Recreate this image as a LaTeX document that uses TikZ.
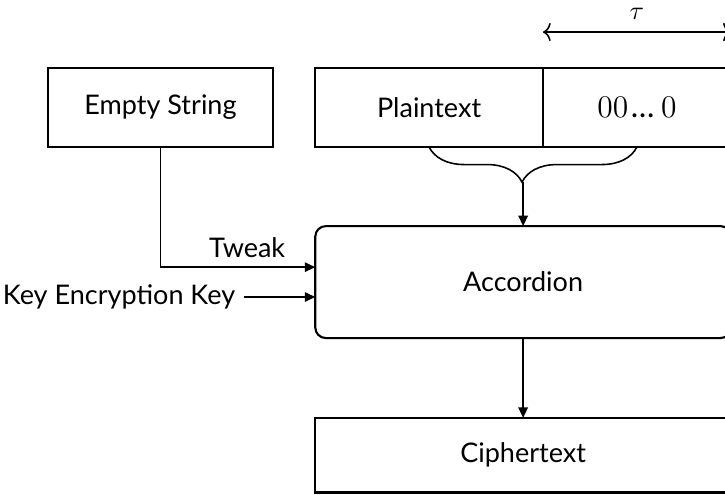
\documentclass[tikz,border=0pt]{standalone}
\usepackage{amsmath,amssymb}
\usepackage{fontspec}
\setmainfont{Lato}
\usepackage{tikz}
\usetikzlibrary{positioning,decorations.pathreplacing,arrows.meta}

\begin{document}
\begin{tikzpicture}[
        font=\fontsize{10.3}{12.5}\selectfont,
        box/.style={draw, line width=0.8pt, outer sep=0pt, minimum height=1.06cm},
        arr/.style={semithick, -{Stealth[length=4pt, width=3.6pt, inset=0pt]}}
    ]
        \useasboundingbox (0,0) rectangle (9.715,-6.62);

        % Draw the input boxes
        \node[box, minimum width=3.02cm] (empty) at (2.15,-1.44) {Empty String};
        \node[box, minimum width=3.05cm] (plain) at (5.75,-1.44) {Plaintext};
        \node[box, minimum width=2.52cm, right=0pt of plain] (zeros) {\large$00$\hspace{1pt}…\hspace{2.5pt}$0$};

        % Length of the padding
        \draw[semithick, {To[length=3pt, width=7pt]}-{To[length=3pt, width=7pt]}]
            ([yshift=0.48cm]zeros.north west) -- ([yshift=0.48cm]zeros.north east)
            node[midway, above, yshift=1pt] {$\tau$};

        % Draw the cipher and the output
        \node[box, rounded corners=4pt, minimum width=5.57cm, minimum height=1.5cm] (accordion) at (7.01,-3.78) {Accordion};
        \node[box, minimum width=5.57cm, minimum height=1cm, below=1.07cm of accordion] (cipher) {Ciphertext};

        % Brace joining plaintext and padding
        \draw[semithick, decorate, decoration={brace, amplitude=0.47cm, aspect=0.553}] (zeros.south) -- (plain.south);
        \coordinate (tip) at ([yshift=-0.47cm]plain.south -| accordion.north);
        \draw[arr] (tip) -- (accordion.north);

        % Tweak and key inputs
        \draw[arr] (empty.south) |- ([yshift=0.2cm]accordion.west) node[pos=0.78, above] {Tweak};
        \node[left=0.95cm of accordion.west, yshift=-0.2cm] (kek) {Key Encryption Key};
        \draw[arr] (kek.east) -- (kek.east -| accordion.west);

        % Output
        \draw[arr] (accordion.south) -- (cipher.north);
    \end{tikzpicture}
\end{document}
